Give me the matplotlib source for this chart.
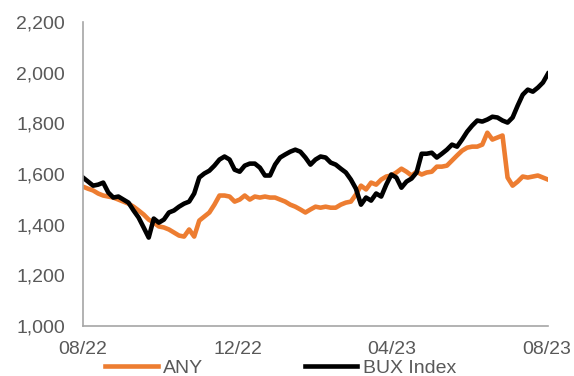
import matplotlib
matplotlib.use("Agg")
import matplotlib.pyplot as plt
import matplotlib.ticker as mticker
import pandas as pd

plt.rcParams['font.family'] = ['Liberation Sans', 'DejaVu Sans']

# roughly every 4 days, Aug 2022 - Aug 2023
dates = pd.date_range('2022-08-01', '2023-08-02', periods=93)

any_px = [1550, 1542, 1535, 1523, 1515, 1511, 1507, 1499, 1491, 1483,
          1471, 1456, 1440, 1420, 1408, 1393, 1389, 1381, 1369, 1357,
          1353, 1381, 1353, 1416, 1432, 1448, 1479, 1515, 1515, 1511,
          1491, 1499, 1515, 1499, 1511, 1507, 1511, 1507, 1507, 1499,
          1491, 1479, 1471, 1460, 1448, 1460, 1471, 1467, 1471, 1467,
          1467, 1479, 1487, 1491, 1519, 1554, 1539, 1566, 1558, 1578,
          1590, 1594, 1606, 1621, 1609, 1594, 1609, 1598, 1606, 1609,
          1629, 1629, 1633, 1653, 1673, 1692, 1704, 1708, 1708, 1716,
          1763, 1736, 1744, 1752, 1586, 1554, 1570, 1590, 1586, 1590,
          1594, 1586, 1578]

bux = [1586, 1570, 1554, 1558, 1566, 1527, 1507, 1511, 1499, 1487,
       1456, 1428, 1389, 1349, 1424, 1408, 1420, 1448, 1456, 1471,
       1483, 1491, 1523, 1586, 1602, 1613, 1633, 1657, 1669, 1657,
       1617, 1609, 1633, 1641, 1641, 1625, 1594, 1594, 1637, 1665,
       1677, 1688, 1696, 1688, 1665, 1637, 1657, 1669, 1665, 1645,
       1637, 1621, 1606, 1578, 1542, 1479, 1507, 1495, 1523, 1511,
       1558, 1598, 1586, 1546, 1570, 1582, 1606, 1680, 1680, 1684,
       1665, 1680, 1696, 1716, 1708, 1736, 1767, 1791, 1811, 1807,
       1815, 1826, 1823, 1811, 1803, 1823, 1870, 1913, 1933, 1925,
       1941, 1961, 1996]

tick_dates = ['2022-08-01', '2022-12-01', '2023-04-01', '2023-08-01']
tick_labels = ['08/22', '12/22', '04/23', '08/23']

fig = plt.figure(figsize=(5.74, 3.76), dpi=100)
ax = fig.add_axes([83/574, 50/376, 465/574, 304/376])

ax.plot(dates, any_px, color='#ED7D31', lw=3.3, solid_joinstyle='round', label='ANY')
ax.plot(dates, bux, color='black', lw=3.3, solid_joinstyle='round', label='BUX Index')

ax.set_xlim(dates[0], dates[-1])
ax.set_ylim(1000, 2200)
ax.set_yticks(range(1000, 2201, 200))
ax.yaxis.set_major_formatter(mticker.StrMethodFormatter('{x:,.0f}'))
ax.set_xticks(pd.to_datetime(tick_dates))
ax.set_xticklabels(tick_labels)

for s in ['top', 'right']:
    ax.spines[s].set_visible(False)
for s in ['left', 'bottom']:
    ax.spines[s].set_color('#a6a6a6')
    ax.spines[s].set_linewidth(1.2)
ax.tick_params(length=0, labelsize=14, labelcolor='#595959')
ax.tick_params(axis='y', pad=13)
ax.tick_params(axis='x', pad=11)

fig.legend(loc='center left', bbox_to_anchor=(105/574, 1 - 368/376), ncol=2,
           frameon=False, fontsize=14, handlelength=2.7, handletextpad=0.3,
           columnspacing=5.2, borderpad=0, borderaxespad=0,
           labelcolor='#595959')

fig.savefig('out.png', dpi=100)
